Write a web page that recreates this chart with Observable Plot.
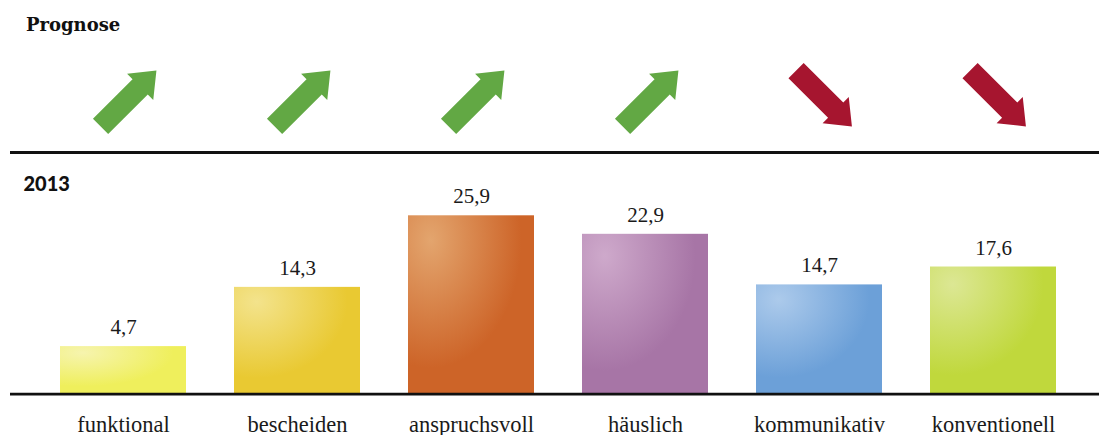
<!DOCTYPE html>
<html lang="de">
<head>
<meta charset="utf-8">
<script src="https://cdn.jsdelivr.net/npm/d3@7"></script>
<script src="https://cdn.jsdelivr.net/npm/@observablehq/plot@0.6"></script>
<style>
  body { margin: 0; background: #fff; }
  #chart { position: relative; width: 1099px; height: 435px; overflow: hidden; }
  #chart > svg, #chart > div { position: absolute; }
  #divider { left: 10px; width: 1089px; top: 151px; height: 2.5px; background: #111; }
</style>
</head>
<body>
<svg width="0" height="0" style="position:absolute"><defs id="gradients"></defs></svg>
<div id="chart"><div id="divider"></div></div>
<script>
// Lebensstil-Typen: Anteile 2013 (in %) und erwartete Entwicklung
const categories = ["funktional", "bescheiden", "anspruchsvoll", "häuslich", "kommunikativ", "konventionell"];
const shares2013 = [4.7, 14.3, 25.9, 22.9, 14.7, 17.6];
const trends = ["up", "up", "up", "up", "down", "down"];

const barColors = ["#EFEF5C", "#E9C932", "#CD6428", "#A775A6", "#6CA0D8", "#C0D83C"];
const barHighlights = ["#F6F4AE", "#F3E38C", "#E3A56E", "#CEA9CB", "#ACCAEB", "#DCE794"];
const trendColors = {up: "#62A844", down: "#A6152F"};

const rows = categories.map((category, i) => ({category, value: shares2013[i], trend: trends[i]}));

// German number format (decimal comma)
const fmt = d3.formatLocale({decimal: ",", thousands: ".", grouping: [3], currency: ["", " €"]}).format(".1f");

// Soft radial highlight in the upper left of every bar
const defs = d3.select("#gradients");
const gradientId = (i) => `bar-grad-${i}`;
categories.forEach((c, i) => {
  const g = defs.append("radialGradient")
    .attr("id", gradientId(i))
    .attr("cx", 0.18).attr("cy", 0.14).attr("r", 0.72);
  g.append("stop").attr("offset", "0%").attr("stop-color", barHighlights[i]);
  g.append("stop").attr("offset", "100%").attr("stop-color", barColors[i]);
});

// Block arrow pointing along the given angle (degrees, screen coordinates)
function blockArrow(angleDeg) {
  const a = angleDeg * Math.PI / 180, c = Math.cos(a), s = Math.sin(a);
  const pts = [[-39.5, -10.75], [16.5, -10.75], [16.5, -18.5], [39.5, 0], [16.5, 18.5], [16.5, 10.75], [-39.5, 10.75]];
  return {
    draw(ctx) {
      pts.forEach(([x, y], i) => {
        const px = x * c - y * s, py = x * s + y * c;
        i ? ctx.lineTo(px, py) : ctx.moveTo(px, py);
      });
      ctx.closePath();
    }
  };
}

const xScale = {
  type: "band",
  domain: categories,
  paddingInner: 0.278,
  paddingOuter: 0.139,
  axis: null
};
const W = 1099, ML = 34.5, MR = 17.5;
const serif = "Liberation Serif, Times New Roman, serif";

// Upper panel: forecast arrows
const prognose = Plot.plot({
  width: W, height: 152,
  marginLeft: ML, marginRight: MR, marginTop: 44, marginBottom: 0,
  x: xScale,
  style: {background: "transparent", overflow: "visible"},
  marks: [
    Plot.text(["Prognose"], {
      frameAnchor: "top-left", text: d => d, textAnchor: "start", lineAnchor: "bottom",
      dx: -9, dy: -13.3,
      fontFamily: "DejaVu Serif, serif", fontWeight: "bold", fontSize: 18, fill: "#111"
    }),
    Plot.dot(rows.filter(d => d.trend === "up"), {
      x: "category", frameAnchor: "middle", dx: 5,
      symbol: blockArrow(-45), fill: trendColors.up, stroke: "none"
    }),
    Plot.dot(rows.filter(d => d.trend === "down"), {
      x: "category", frameAnchor: "middle", dx: 4.5,
      symbol: blockArrow(45), fill: trendColors.down, stroke: "none"
    })
  ]
});
prognose.style.top = "0px";
prognose.style.left = "0px";

// Lower panel: shares 2013
const baseValue = -2.9;
const shares = Plot.plot({
  width: W, height: 283,
  marginLeft: ML, marginRight: MR, marginTop: 38, marginBottom: 42,
  x: xScale,
  y: {domain: [baseValue, 30], axis: null},
  color: {type: "ordinal", domain: categories, range: categories.map((c, i) => `url(#${gradientId(i)})`)},
  style: {background: "transparent", overflow: "visible"},
  marks: [
    Plot.text(["2013"], {
      frameAnchor: "top-left", text: d => d, textAnchor: "start", lineAnchor: "bottom",
      dx: -11.5, dy: 0.7,
      fontFamily: "Lato, sans-serif", fontWeight: 900, fontSize: 20, fill: "#111"
    }),
    Plot.barY(rows, {x: "category", y1: baseValue, y2: "value", fill: "category"}),
    Plot.ruleY([baseValue], {stroke: "#111", strokeWidth: 2.7, dy: 0.6, insetLeft: -24.5, insetRight: -17.5}),
    Plot.text(rows, {
      x: "category", y: "value", text: d => fmt(d.value),
      lineAnchor: "bottom", dy: -12.5,
      fontFamily: serif, fontSize: 21, fill: "#1a1a1a"
    }),
    Plot.text(categories, {
      x: d => d, text: d => d, frameAnchor: "bottom", lineAnchor: "bottom", dy: 38,
      fontFamily: serif, fontSize: 22.5, fill: "#1a1a1a"
    })
  ]
});
shares.style.top = "152px";
shares.style.left = "0px";

const chart = document.getElementById("chart");
chart.appendChild(prognose);
chart.appendChild(shares);
</script>
</body>
</html>
